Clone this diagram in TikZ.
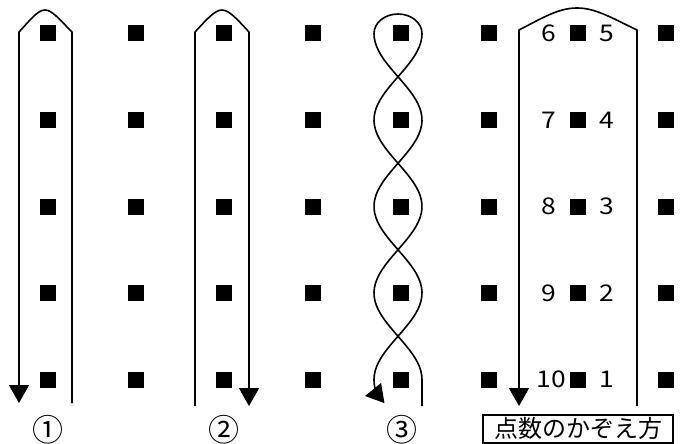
\documentclass[tikz,border=0pt]{standalone}
\usepackage{fontspec}
\newfontfamily\jpfont{Noto Sans CJK JP}
\newfontfamily\numfont[FakeStretch=1.15]{Noto Sans CJK JP}
\usepackage{tikz}
\usetikzlibrary{arrows.meta}
\tikzset{
  dot/.style={rectangle, fill=black, inner sep=0pt, minimum size=16pt},
  numlbl/.style={inner sep=0pt, font=\numfont\fontsize{23pt}{23pt}\selectfont},
  circlbl/.style={inner sep=0pt, text height=24pt, text depth=0pt,
                  font=\jpfont\fontsize{31pt}{31pt}\selectfont},
  capbox/.style={draw, line width=2pt, inner sep=0pt, minimum width=190pt,
                 minimum height=28pt, font=\jpfont\fontsize{24pt}{24pt}\selectfont},
  rope/.style={line width=1.6pt, line join=round},
  ropearrow/.style={rope, -{Triangle[length=18pt,width=20pt]}},
}

\begin{document}
\begin{tikzpicture}[x=1pt, y=-1pt]
  \useasboundingbox (0,0) rectangle (686,444);
  % grid of points
  \foreach \c/\xx in {1/47.5,2/135.9,3/224.2,4/312.6,5/400.9,6/489.3,7/577.6,8/666}
    \foreach \r/\yy in {1/33.5,2/120,3/206.5,4/293,5/379.5}
      \node[dot] (d\c\r) at (\xx,\yy) {};

  % loop 1
  \coordinate (s1) at (72,403);
  \coordinate (e1) at (19,403);
  \draw[ropearrow] (s1) -- (72,32) .. controls (59,19) and (52,10) .. (45,10)
    .. controls (38,10) and (31,19) .. (19,32) -- (e1);

  % loop 2
  \coordinate (s2) at (195,406);
  \coordinate (e2) at (249,406);
  \draw[ropearrow] (s2) -- (195,32) .. controls (207,19) and (215,10) .. (222,10)
    .. controls (229,10) and (237,19) .. (249,32) -- (e2);

  % loop 3, twisted
  \coordinate (s3) at (422,406);
  \coordinate (e3) at (365,396);
  \draw[ropearrow] (s3) -- (422,379.5)
    -- plot[variable=\t, domain=379.5:33.5, samples=80] ({398+24*cos((\t-33.5)/86.5*180)}, \t)
    arc[start angle=0, end angle=-180, x radius=24, y radius=19.5]
    -- plot[variable=\t, domain=33.5:379.5, samples=80] ({398-24*cos((\t-33.5)/86.5*180)}, \t)
    .. controls (374,390) and (377,394) .. (e3);

  % loop 4
  \coordinate (s4) at (637,406);
  \coordinate (e4) at (519,406);
  \draw[ropearrow] (s4) -- (637,30) .. controls (610,17) and (595,8) .. (577,8)
    .. controls (559,8) and (544,17) .. (519,30) -- (e4);

  % counting numbers
  \foreach \n/\yy in {6/33.5,7/120,8/206.5,9/293}
    \node[numlbl] (nl\n) at (549,\yy) {\n};
  \node[numlbl] (nl10) at (551,379.5) {10};
  \foreach \n/\yy in {5/33.5,4/120,3/206.5,2/293,1/379.5}
    \node[numlbl] (nr\n) at (607,\yy) {\n};

  % labels
  \node[circlbl, anchor=base] (c1) at (48,441) {①};
  \node[circlbl, anchor=base] (c2) at (224,441) {②};
  \node[circlbl, anchor=base] (c3) at (402,441) {③};
  \node[capbox] (cap) at (578,428.5) {点数のかぞえ方};
\end{tikzpicture}
\end{document}
